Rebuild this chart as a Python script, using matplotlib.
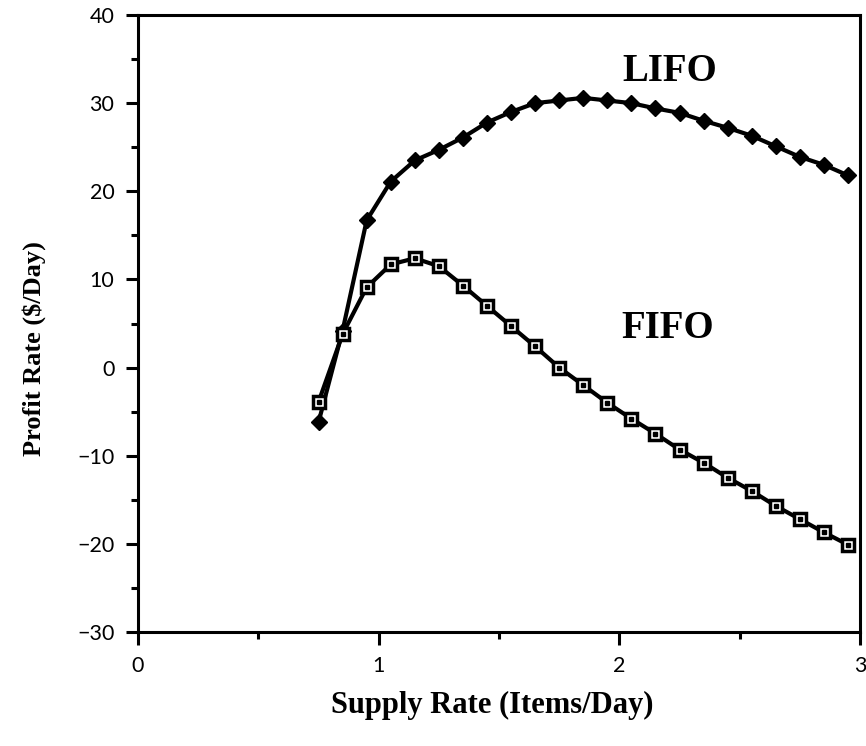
import matplotlib.pyplot as plt
from matplotlib.ticker import MultipleLocator

# Supply rate (items/day) and profit rate ($/day)
supply_rate = [0.75, 0.85, 0.95, 1.05, 1.15, 1.25, 1.35, 1.45, 1.55, 1.65, 1.75, 1.85,
               1.95, 2.05, 2.15, 2.25, 2.35, 2.45, 2.55, 2.65, 2.75, 2.85, 2.95]
lifo_profit = [-6.2, 4.2, 16.7, 21.1, 23.5, 24.7, 26.1, 27.8, 29.0, 30.0, 30.3, 30.6,
               30.3, 30.0, 29.4, 28.9, 28.0, 27.2, 26.3, 25.1, 23.9, 23.0, 21.8]
fifo_profit = [-3.9, 3.8, 9.1, 11.7, 12.4, 11.5, 9.3, 7.0, 4.7, 2.4, 0.0, -2.0,
               -4.0, -5.8, -7.5, -9.3, -10.8, -12.5, -14.0, -15.7, -17.2, -18.7, -20.1]

serif = ['Liberation Serif', 'DejaVu Serif']
tick_family = ['Lato', 'DejaVu Sans']

fig = plt.figure(figsize=(8.66, 7.46), dpi=100)
ax = fig.add_axes([0.1594, 0.1528, 0.8337, 0.8271])

# LIFO: filled diamonds
ax.plot(supply_rate, lifo_profit, color='black', linewidth=3,
        marker='D', markersize=8.5, markerfacecolor='black', markeredgecolor='black')

# FIFO: open squares with a dot in the middle
ax.plot(supply_rate, fifo_profit, color='black', linewidth=3,
        marker='s', markersize=9, markerfacecolor='white',
        markeredgecolor='black', markeredgewidth=2.5)
ax.plot(supply_rate, fifo_profit, linestyle='none',
        marker='s', markersize=2.8, color='black')

ax.text(2.21, 33.6, 'LIFO', fontsize=28, fontweight='bold', family=serif,
        ha='center', va='center')
ax.text(2.20, 4.4, 'FIFO', fontsize=28, fontweight='bold', family=serif,
        ha='center', va='center')

ax.set_xlim(0, 3)
ax.set_ylim(-30, 40)
ax.xaxis.set_major_locator(MultipleLocator(1))
ax.xaxis.set_minor_locator(MultipleLocator(0.5))
ax.yaxis.set_major_locator(MultipleLocator(10))
ax.yaxis.set_minor_locator(MultipleLocator(5))
ax.tick_params(which='major', direction='out', length=9, width=2.2, pad=8)
ax.tick_params(which='minor', direction='out', length=5, width=2.2)
ax.tick_params(axis='y', which='both', left=True, right=False)
ax.tick_params(axis='x', which='both', bottom=True, top=False)

for lbl in ax.get_xticklabels() + ax.get_yticklabels():
    lbl.set_fontfamily(tick_family)
    lbl.set_fontsize(15.5)
    lbl.set_color('black')

for side in ['left', 'bottom', 'right', 'top']:
    ax.spines[side].set_linewidth(2.2)

ax.set_xlabel('Supply Rate (Items/Day)', fontsize=22, fontweight='bold', family=serif)
ax.set_ylabel('Profit Rate ($/Day)', fontsize=19, fontweight='bold', family=serif)
ax.xaxis.set_label_coords(0.49, -0.095)
ax.yaxis.set_label_coords(-0.127, 0.46)

fig.savefig('out.png', dpi=100)
